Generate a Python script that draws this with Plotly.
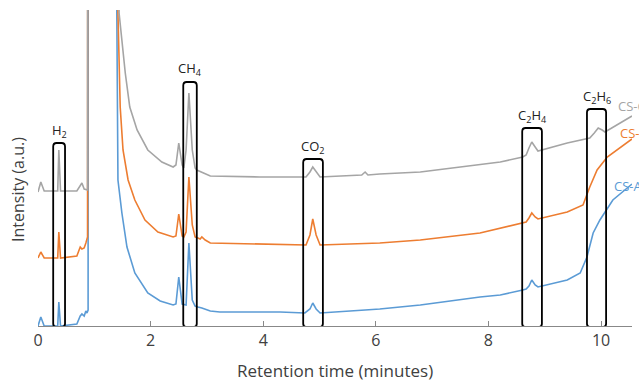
import plotly.graph_objects as go

# ---- data (retention time in minutes, intensity in a.u.) ----
cs_a = [(0, 0), (0.05, 9), (0.11, 0), (0.35, 0), (0.37, 24), (0.40, 0), (0.69, 2), (0.75, 10),
        (0.78, 12), (0.82, 10), (0.85, 15), (0.87, 13), (0.89, 16), (0.895, 2000), (1.39, 2000),
        (1.40, 313), (1.42, 146), (1.49, 113), (1.58, 79), (1.72, 53), (1.95, 33), (2.17, 25),
        (2.40, 21), (2.45, 22), (2.50, 49), (2.56, 22), (2.63, 21),
        (2.68, 83), (2.74, 26), (2.79, 20), (2.84, 19), (2.91, 18), (3.06, 15), (3.23, 14),
        (3.94, 14), (4.30, 14), (4.74, 13), (4.83, 17), (4.88, 23), (4.94, 17), (5.01, 13),
        (5.36, 14), (5.81, 16), (6.07, 17), (6.79, 21), (7.85, 29), (8.21, 31), (8.61, 36),
        (8.67, 37), (8.72, 40), (8.77, 46), (8.83, 41), (8.88, 39), (9.40, 46), (9.63, 53),
        (9.75, 69), (9.86, 93), (9.98, 106), (10.21, 126), (10.55, 142)]

cs_b = [(0, 68), (0.05, 74), (0.11, 68), (0.35, 68), (0.37, 94), (0.40, 68), (0.69, 70), (0.75, 79),
        (0.78, 77), (0.82, 78), (0.85, 83), (0.88, 89), (0.895, 2000), (1.41, 2000), (1.42, 313),
        (1.46, 219), (1.51, 176), (1.60, 146), (1.72, 126), (1.90, 106), (2.13, 94),
        (2.40, 89), (2.45, 90), (2.50, 112), (2.56, 90), (2.59, 89), (2.63, 94), (2.68, 149),
        (2.74, 101), (2.79, 89), (2.84, 88), (2.88, 87), (2.91, 89), (2.97, 86), (3.06, 83),
        (4.30, 81), (4.76, 81), (4.83, 91), (4.88, 107), (4.94, 91), (5.01, 81), (6.07, 83),
        (6.79, 86), (7.85, 93), (8.21, 98), (8.61, 103), (8.67, 104), (8.72, 108), (8.77, 113),
        (8.83, 109), (8.88, 107), (9.40, 114), (9.68, 121), (9.80, 139), (9.93, 156),
        (10.11, 169), (10.52, 186), (10.55, 187)]

cs_c = [(0, 134), (0.05, 144), (0.11, 135), (0.35, 135), (0.37, 176), (0.40, 135), (0.69, 135),
        (0.75, 140), (0.78, 143), (0.82, 137), (0.88, 136), (0.895, 2000), (1.42, 2000),
        (1.44, 313), (1.49, 286), (1.55, 253), (1.63, 219), (1.76, 196), (1.95, 176), (2.20, 164),
        (2.40, 159), (2.45, 161), (2.50, 183), (2.56, 161), (2.59, 158), (2.63, 176),
        (2.68, 233), (2.74, 176), (2.79, 158), (2.82, 156), (3.06, 150), (3.94, 149), (4.76, 149),
        (4.83, 154), (4.88, 159), (4.94, 154), (5.01, 149), (5.75, 151), (5.81, 154), (5.86, 151),
        (6.07, 152), (6.79, 154), (7.85, 161), (8.21, 164), (8.61, 169), (8.67, 171), (8.72, 178),
        (8.77, 184), (8.83, 179), (8.88, 175), (9.40, 183), (9.80, 188), (9.88, 193), (9.95, 198),
        (10.02, 196), (10.07, 194), (10.52, 209), (10.55, 210)]

series_names = ["CS-A", "CS-B", "CS-C"]
series_colors = ["#5B9BD5", "#ED7D31", "#A5A5A5"]
series_label_pos = [(10.19, 140), (10.30, 193), (10.26, 220)]

# peak boxes
peak_names = ["H<sub>2</sub>", "CH<sub>4</sub>", "CO<sub>2</sub>", "C<sub>2</sub>H<sub>4</sub>", "C<sub>2</sub>H<sub>6</sub>"]
box_x0 = [0.27, 2.58, 4.71, 8.60, 9.75]
box_x1 = [0.48, 2.82, 5.06, 8.95, 10.09]
box_top = [183, 244, 167, 198, 217]
label_y = [195, 257, 179, 210, 229]

x_ticks = [0, 2, 4, 6, 8, 10]

fig = go.Figure()
for data, name, color in zip([cs_a, cs_b, cs_c], series_names, series_colors):
    fig.add_trace(go.Scatter(
        x=[p[0] for p in data], y=[p[1] for p in data], mode="lines", name=name,
        line=dict(color=color, width=1.6), showlegend=False, hoverinfo="skip"))

rx, ry = 0.06, 3.5
for x0, x1, top in zip(box_x0, box_x1, box_top):
    y0 = -1
    path = (f"M {x0+rx},{y0} L {x1-rx},{y0} Q {x1},{y0} {x1},{y0+ry} "
            f"L {x1},{top-ry} Q {x1},{top} {x1-rx},{top} "
            f"L {x0+rx},{top} Q {x0},{top} {x0},{top-ry} "
            f"L {x0},{y0+ry} Q {x0},{y0} {x0+rx},{y0} Z")
    fig.add_shape(type="path", path=path, xref="x", yref="y",
                  line=dict(color="black", width=1.8))

for name, x0, x1, ly in zip(peak_names, box_x0, box_x1, label_y):
    fig.add_annotation(x=(x0 + x1) / 2, y=ly, text=name, showarrow=False,
                       font=dict(size=13, color="#222222"), xanchor="center", yanchor="middle")

for name, color, (lx, ly) in zip(series_names, series_colors, series_label_pos):
    fig.add_annotation(x=lx, y=ly, text=name, showarrow=False, xanchor="left", yanchor="middle",
                       font=dict(size=13, color=color))

# axis titles as annotations (fixed positions)
fig.add_annotation(xref="paper", yref="paper", x=0.5, y=-44 / 316, text="Retention time (minutes)",
                   showarrow=False, xanchor="center", yanchor="middle",
                   font=dict(size=17, color="#404040"))
fig.add_annotation(xref="paper", yref="paper", x=-20 / 594, y=136 / 316, text="Intensity (a.u.)",
                   showarrow=False, xanchor="center", yanchor="middle", textangle=-90,
                   font=dict(size=16, color="#404040"))

fig.update_layout(
    width=639, height=381,
    margin=dict(l=38, r=7, t=10, b=55, autoexpand=False),
    paper_bgcolor="white", plot_bgcolor="white",
    font=dict(family="Open Sans", color="#404040"),
    xaxis=dict(range=[0, 10.55], tickvals=x_ticks, ticks="inside", ticklen=5,
               tickcolor="#888888", showline=True, linecolor="#888888", linewidth=1,
               showgrid=False, zeroline=False, tickfont=dict(size=16, color="#404040"),
               automargin=False),
    yaxis=dict(range=[0, 316], showticklabels=False, ticks="", showgrid=False,
               zeroline=False, showline=False, automargin=False),
)

fig.write_html("out.html", config={"displayModeBar": False},
               post_script="document.body.style.margin='0';document.body.style.overflow='hidden';")
